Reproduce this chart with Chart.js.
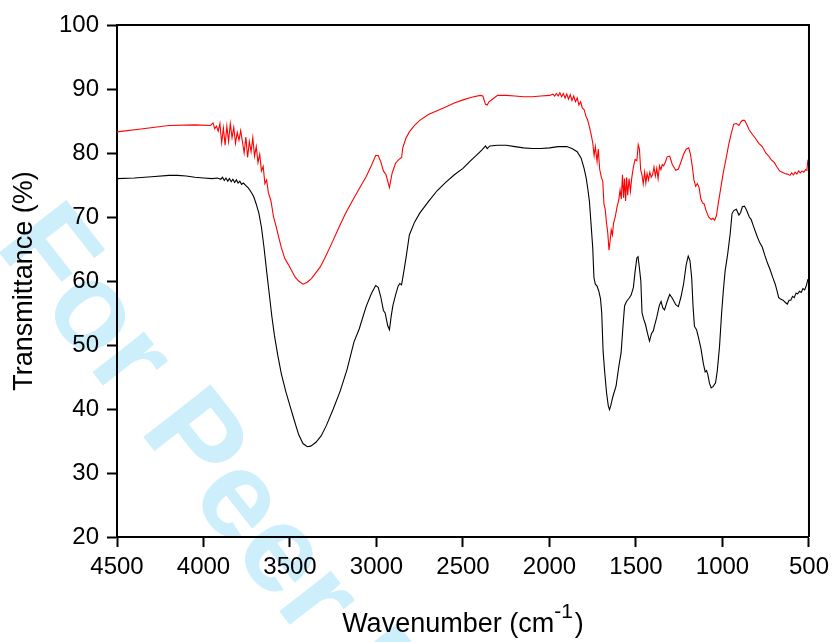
<!DOCTYPE html>
<html>
<head>
<meta charset="utf-8">
<script src="https://cdn.jsdelivr.net/npm/chart.js@4.4.1/dist/chart.umd.min.js"></script>
<style>
  body { margin: 0; background: #fff; }
  canvas { display: block; }
</style>
</head>
<body>
<canvas id="ftir" width="835" height="642" style="width:835px;height:642px"></canvas>
<script>
// wavenumber (cm-1) / transmittance (%)
const redWave = [4500, 4350, 4200, 4050, 3960, 3945, 3935, 3925, 3915, 3905, 3895, 3885, 3875, 3865, 3855, 3845, 3835, 3825, 3815, 3805, 3795, 3785, 3775, 3765, 3755, 3745, 3735, 3725, 3715, 3705, 3695, 3685, 3675, 3665, 3655, 3645, 3635, 3625, 3610, 3595, 3580, 3565, 3550, 3530, 3510, 3490, 3470, 3450, 3425, 3400, 3375, 3350, 3325, 3300, 3260, 3220, 3180, 3140, 3100, 3060, 3030, 3005, 2990, 2975, 2960, 2945, 2925, 2910, 2890, 2870, 2855, 2848, 2830, 2810, 2780, 2750, 2700, 2650, 2600, 2550, 2500, 2450, 2400, 2385, 2370, 2360, 2350, 2330, 2300, 2250, 2200, 2150, 2100, 2050, 2000, 1980, 1970, 1960, 1950, 1940, 1930, 1920, 1910, 1900, 1890, 1880, 1870, 1860, 1850, 1840, 1830, 1820, 1810, 1800, 1790, 1780, 1770, 1760, 1750, 1742, 1735, 1725, 1718, 1710, 1700, 1692, 1685, 1678, 1670, 1663, 1656, 1650, 1643, 1636, 1630, 1620, 1610, 1600, 1592, 1585, 1578, 1572, 1566, 1560, 1554, 1548, 1540, 1532, 1525, 1515, 1505, 1495, 1487, 1480, 1473, 1465, 1458, 1450, 1443, 1436, 1428, 1420, 1412, 1404, 1396, 1388, 1380, 1372, 1364, 1356, 1348, 1340, 1330, 1320, 1305, 1290, 1270, 1255, 1240, 1225, 1210, 1195, 1185, 1175, 1165, 1155, 1145, 1135, 1125, 1115, 1105, 1095, 1080, 1065, 1055, 1045, 1035, 1025, 1010, 995, 980, 965, 950, 935, 920, 905, 895, 885, 872, 860, 845, 830, 810, 790, 770, 750, 735, 720, 700, 685, 670, 655, 640, 625, 610, 600, 590, 580, 570, 560, 550, 540, 530, 520, 512, 507, 500];
const redT = [83.3, 83.8, 84.3, 84.4, 84.3, 84.7, 83.8, 84.2, 83.4, 84.6, 81.6, 83.9, 81.2, 84.2, 81.8, 84.6, 82.4, 84.0, 81.5, 83.2, 82.0, 83.5, 81.8, 80.0, 82.5, 79.3, 81.8, 80.2, 82.4, 79.5, 81.0, 78.5, 79.8, 77.2, 77.9, 75.2, 75.8, 73.8, 72.5, 70.0, 68.5, 66.8, 65.2, 63.5, 62.6, 61.6, 60.6, 60.0, 59.5, 59.8, 60.4, 61.3, 62.2, 63.5, 65.8, 68.2, 70.5, 72.5, 74.4, 76.3, 78.0, 79.6, 79.6, 78.6, 77.2, 76.6, 74.6, 76.8, 78.4, 79.0, 79.3, 80.8, 82.3, 83.3, 84.3, 85.1, 86.0, 86.6, 87.2, 87.8, 88.3, 88.7, 89.0, 88.9, 87.6, 87.5, 88.0, 88.4, 89.0, 89.0, 88.9, 88.8, 88.8, 88.9, 89.0, 89.2, 88.9, 89.3, 88.9, 89.4, 88.8, 89.3, 88.6, 89.2, 88.4, 89.1, 88.2, 88.9, 88.0, 88.6, 87.5, 88.0, 87.0, 86.8, 85.8, 85.2, 84.2, 83.0, 81.6, 79.6, 81.0, 78.7, 80.6, 77.5, 76.2, 75.6, 72.0, 71.2, 69.0, 67.5, 64.8, 66.2, 68.0, 67.2, 69.0, 70.0, 71.5, 72.6, 74.2, 72.8, 76.6, 73.0, 76.0, 72.5, 76.2, 73.4, 76.0, 74.0, 76.0, 77.8, 79.0, 78.8, 81.3, 80.6, 77.4, 76.5, 75.2, 77.0, 75.3, 76.8, 75.8, 77.0, 76.2, 76.6, 77.8, 76.4, 77.6, 76.0, 78.0, 77.4, 78.2, 78.0, 78.6, 79.4, 79.5, 78.2, 77.3, 77.5, 78.6, 79.8, 80.6, 80.8, 79.8, 78.0, 75.8, 74.8, 75.2, 74.6, 72.8, 72.2, 72.0, 71.0, 70.0, 69.6, 69.8, 69.5, 70.2, 72.0, 74.5, 77.0, 79.0, 81.2, 83.0, 84.5, 84.6, 84.3, 84.8, 85.1, 85.1, 84.5, 83.6, 83.0, 82.3, 81.5, 81.0, 80.0, 79.6, 79.0, 78.5, 77.8, 77.2, 77.0, 76.8, 76.7, 76.5, 76.9, 76.6, 77.0, 76.7, 77.2, 76.9, 77.2, 77.0, 77.4, 77.3, 78.7, 78.3];

const blackWave = [4500, 4400, 4300, 4200, 4150, 4100, 4050, 4000, 3950, 3920, 3900, 3890, 3880, 3870, 3860, 3850, 3840, 3830, 3820, 3810, 3800, 3790, 3780, 3770, 3755, 3740, 3725, 3710, 3695, 3680, 3665, 3650, 3635, 3620, 3605, 3590, 3570, 3550, 3525, 3500, 3475, 3450, 3425, 3400, 3380, 3350, 3320, 3290, 3250, 3210, 3170, 3130, 3100, 3060, 3030, 3005, 2990, 2975, 2960, 2950, 2935, 2925, 2915, 2905, 2890, 2875, 2865, 2855, 2845, 2830, 2810, 2780, 2750, 2700, 2650, 2600, 2550, 2500, 2460, 2420, 2390, 2370, 2360, 2345, 2300, 2250, 2200, 2150, 2100, 2050, 2000, 1950, 1900, 1870, 1840, 1817, 1800, 1788, 1778, 1769, 1760, 1750, 1743, 1735, 1725, 1715, 1705, 1698, 1690, 1680, 1670, 1660, 1653, 1645, 1635, 1615, 1600, 1586, 1575, 1566, 1555, 1540, 1528, 1515, 1505, 1495, 1488, 1480, 1472, 1465, 1455, 1445, 1435, 1422, 1410, 1400, 1393, 1380, 1365, 1355, 1345, 1335, 1320, 1305, 1290, 1270, 1255, 1240, 1225, 1210, 1198, 1188, 1178, 1170, 1162, 1150, 1140, 1125, 1110, 1100, 1092, 1085, 1075, 1065, 1055, 1040, 1030, 1017, 1005, 995, 985, 970, 955, 945, 935, 920, 905, 895, 885, 873, 860, 845, 834, 820, 800, 785, 770, 755, 740, 725, 710, 695, 685, 675, 665, 650, 635, 625, 615, 605, 595, 585, 575, 565, 555, 545, 535, 525, 515, 507, 500];
const blackT = [76.0, 76.1, 76.3, 76.5, 76.5, 76.4, 76.2, 76.1, 76.0, 76.1, 75.9, 76.2, 75.7, 76.1, 75.6, 76.0, 75.5, 75.9, 75.4, 75.8, 75.3, 75.6, 75.1, 75.3, 74.9, 74.5, 73.9, 73.2, 72.0, 70.6, 68.4, 65.2, 61.5, 58.0, 54.5, 51.5, 48.3, 45.5, 42.8, 40.5, 38.2, 36.0, 34.6, 34.1, 34.2, 34.8, 35.8, 37.4, 40.0, 42.8, 46.2, 50.5, 52.5, 56.0, 58.0, 59.3, 59.0, 57.5, 55.4, 55.0, 53.0, 52.4, 54.5, 56.2, 57.8, 59.2, 59.6, 59.4, 61.0, 63.5, 67.2, 69.2, 70.6, 72.4, 74.1, 75.4, 76.6, 77.6, 78.7, 79.7, 80.5, 81.1, 80.7, 81.1, 81.2, 81.2, 81.0, 80.8, 80.7, 80.7, 80.8, 81.0, 81.0, 80.7, 80.2, 79.2, 77.6, 76.1, 74.3, 72.4, 69.0, 65.2, 60.5, 59.5, 59.2, 58.4, 57.2, 55.0, 49.0, 45.5, 42.5, 40.5, 39.9, 40.6, 41.8, 43.6, 46.5, 48.8, 53.0, 56.1, 56.8, 57.3, 57.8, 59.0, 61.5, 63.6, 63.8, 62.0, 60.0, 55.0, 54.0, 53.2, 52.0, 50.6, 51.8, 52.2, 53.0, 54.3, 56.2, 56.8, 55.8, 55.5, 56.8, 57.9, 57.3, 56.3, 56.0, 57.5, 59.5, 62.5, 63.9, 63.2, 60.5, 56.0, 52.9, 52.4, 51.3, 49.5, 47.0, 45.8, 46.0, 45.4, 44.0, 43.3, 43.5, 44.1, 46.0, 49.8, 55.0, 58.5, 61.5, 64.2, 67.5, 70.5, 71.0, 71.2, 70.3, 70.7, 71.6, 71.7, 71.0, 70.0, 69.6, 68.5, 67.0, 66.0, 65.3, 64.0, 62.8, 61.8, 60.6, 59.5, 58.5, 57.4, 57.2, 57.0, 56.6, 56.4, 57.0, 57.0, 57.6, 57.4, 58.1, 58.0, 58.4, 58.2, 58.8, 58.6, 59.3, 60.2, 60.1];

const xTicks = [4500, 4000, 3500, 3000, 2500, 2000, 1500, 1000, 500];
const yTicks = [20, 30, 40, 50, 60, 70, 80, 90, 100];

const FONT = '"Liberation Sans", Arial, Helvetica, sans-serif';

function pairs(xs, ys) {
  return xs.map((x, i) => ({ x: x, y: ys[i] }));
}

// light blue diagonal watermark behind the plot
const watermark = {
  id: 'watermark',
  beforeDraw(chart) {
    const ctx = chart.ctx;
    ctx.save();
    ctx.translate(-6, 246);
    ctx.rotate(52 * Math.PI / 180);
    ctx.font = 'bold 124px ' + FONT;
    ctx.fillStyle = '#cdeefb';
    ctx.textBaseline = 'alphabetic';
    ctx.textAlign = 'left';
    ctx.fillText('For Peer Review', 0, 0);
    ctx.restore();
  }
};

// top/right frame and the x title with a superscript
const frame = {
  id: 'frame',
  afterDraw(chart) {
    const ctx = chart.ctx;
    const a = chart.chartArea;
    ctx.save();
    ctx.strokeStyle = '#000';
    ctx.lineWidth = 2;
    ctx.beginPath();
    ctx.moveTo(a.left, a.top);
    ctx.lineTo(a.right, a.top);
    ctx.lineTo(a.right, a.bottom);
    ctx.stroke();

    ctx.fillStyle = '#000';
    ctx.textBaseline = 'alphabetic';
    ctx.textAlign = 'left';
    const main = 'Wavenumber (cm';
    const sup = '-1';
    ctx.font = '27px ' + FONT;
    const w1 = ctx.measureText(main).width;
    const w3 = ctx.measureText(')').width;
    ctx.font = '21px ' + FONT;
    const w2 = ctx.measureText(sup).width;
    const total = w1 + w2 + 2 + w3;
    let x = (a.left + a.right) / 2 - total / 2;
    const base = 632;
    ctx.font = '27px ' + FONT;
    ctx.fillText(main, x, base);
    ctx.font = '21px ' + FONT;
    ctx.fillText(sup, x + w1, base - 14);
    ctx.font = '27px ' + FONT;
    ctx.fillText(')', x + w1 + w2 + 2, base);
    ctx.restore();
  }
};

const axisGrid = {
  drawOnChartArea: false,
  drawTicks: true,
  tickLength: 10,
  tickWidth: 2,
  tickColor: '#000'
};

new Chart(document.getElementById('ftir'), {
  type: 'line',
  data: {
    datasets: [
      {
        label: 'sample 1',
        data: pairs(blackWave, blackT),
        borderColor: '#000000',
        borderWidth: 1.1,
        pointRadius: 0,
        tension: 0,
        fill: false
      },
      {
        label: 'sample 2',
        data: pairs(redWave, redT),
        borderColor: '#ff0000',
        borderWidth: 1.1,
        pointRadius: 0,
        tension: 0,
        fill: false
      }
    ]
  },
  options: {
    responsive: false,
    animation: false,
    events: [],
    layout: { padding: { top: 25, right: 26, left: 0, bottom: 0 } },
    plugins: {
      legend: { display: false },
      tooltip: { enabled: false }
    },
    scales: {
      x: {
        type: 'linear',
        reverse: true,
        min: 500,
        max: 4500,
        afterBuildTicks: s => { s.ticks = xTicks.map(v => ({ value: v })); },
        ticks: {
          autoSkip: false,
          maxRotation: 0,
          padding: 6,
          color: '#000',
          font: { family: FONT, size: 24 },
          callback: v => String(v)
        },
        grid: axisGrid,
        border: { display: true, color: '#000', width: 2 },
        afterFit: s => { s.height = 105; }
      },
      y: {
        min: 20,
        max: 100,
        afterBuildTicks: s => { s.ticks = yTicks.map(v => ({ value: v })); },
        ticks: {
          padding: 8,
          color: '#000',
          font: { family: FONT, size: 24 },
          callback: v => String(v)
        },
        grid: axisGrid,
        border: { display: true, color: '#000', width: 2 },
        title: {
          display: true,
          text: 'Transmittance (%)',
          color: '#000',
          font: { family: FONT, size: 27 },
          padding: { top: 8, bottom: 0 }
        },
        afterFit: s => { s.width = 117; }
      }
    }
  },
  plugins: [watermark, frame]
});
</script>
</body>
</html>
